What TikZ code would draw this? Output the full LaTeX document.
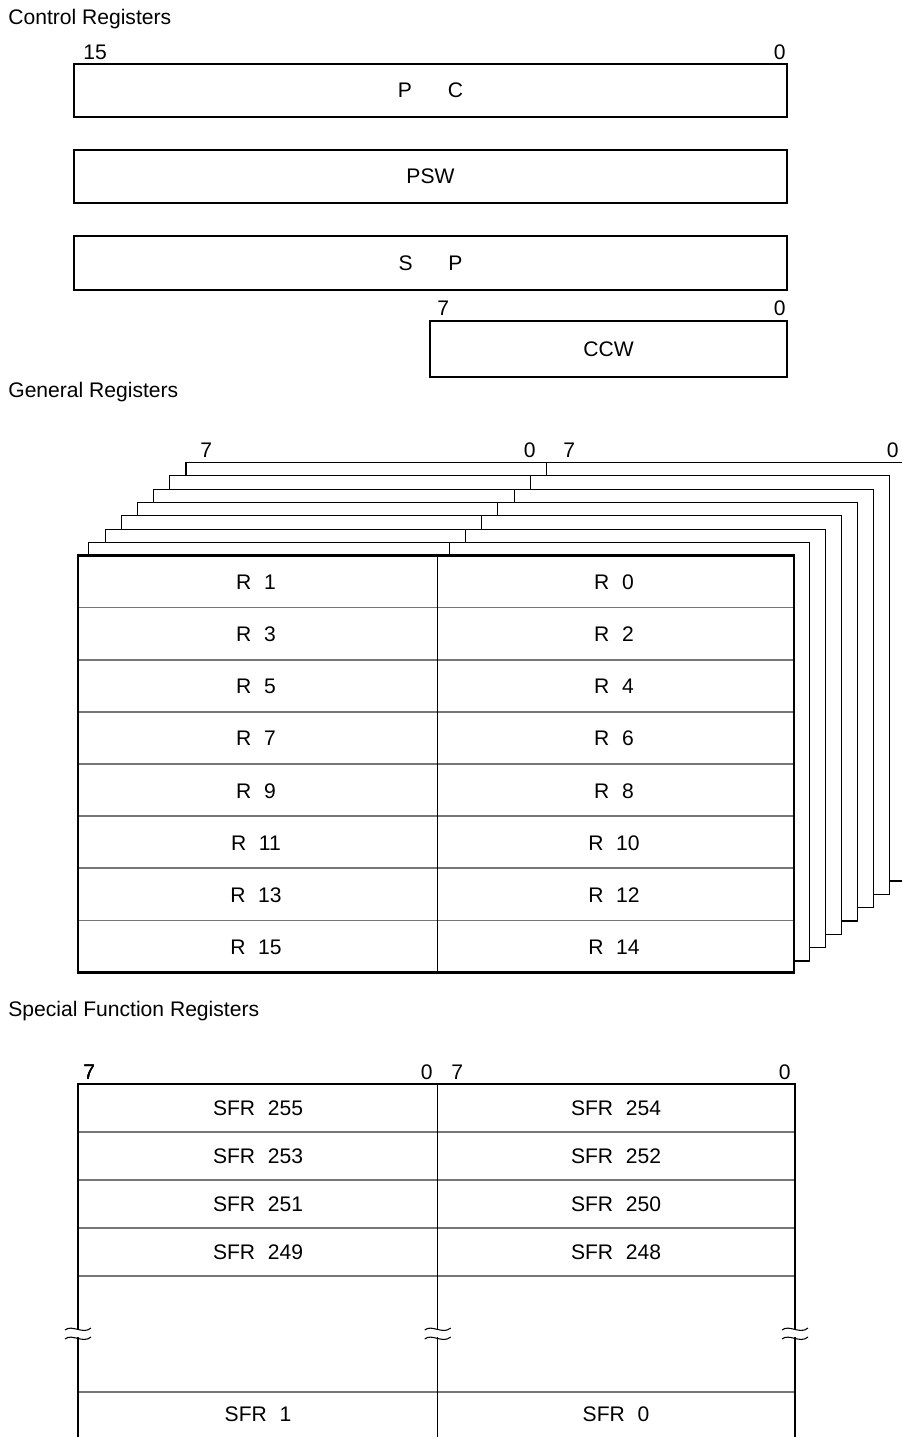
\documentclass[tikz,border=0pt]{standalone}
\usepackage{fontspec}
\setmainfont{Liberation Sans}
\usetikzlibrary{positioning,calc}
\definecolor{ink}{RGB}{0,0,0}
\definecolor{rule}{RGB}{118,118,118}
\newcommand{\regfont}{\fontsize{12}{14}\selectfont}
\newcommand{\gap}{\hspace{0.6em}}
\tikzset{
  reg/.style={draw=ink, line width=1.6pt, inner sep=0pt, font=\regfont},
  heavy/.style={draw=ink, line width=1.6pt},
  bank/.style={draw=ink, line width=0.6pt},
  rowline/.style={draw=rule, line width=0.8pt},
  midline/.style={draw=ink, line width=0.7pt},
  cell/.style={font=\regfont, inner sep=0pt},
  bitl/.style={font=\regfont, inner sep=0pt, anchor=base west},
  bitr/.style={font=\regfont, inner sep=0pt, anchor=base east},
  title/.style={font=\regfont, inner sep=0pt, anchor=base west},
}
\newcommand{\breakmark}[2]{%
  \fill[white] (#1-4,#2+1) rectangle (#1+4,#2+8);
  \draw[ink,line width=0.6pt] (#1-13,#2+1) .. controls (#1-6,#2-5) and (#1+5,#2+6) .. (#1+13,#2-1);
  \draw[ink,line width=0.6pt] (#1-13,#2+10) .. controls (#1-6,#2+4) and (#1+5,#2+15) .. (#1+13,#2+8);}
\begin{document}
\begin{tikzpicture}[x=0.02cm,y=-0.02cm]
  \useasboundingbox (0,0) rectangle (902,1437);
  \node[title] (ctltitle) at (8,24) {Control Registers};
  \node[reg, minimum width=14.26cm, minimum height=1.06cm] (pc)  at (430.5,90.5) {P\hspace{1.7em}C};
  \node[reg, minimum width=14.26cm, minimum height=1.06cm] (psw) at (430.5,176.5) {PSW};
  \node[reg, minimum width=14.26cm, minimum height=1.08cm] (sp)  at (430.5,263) {S\hspace{1.7em}P};
  \node[reg, minimum width=7.14cm, minimum height=1.12cm]  (ccw) at (608.5,349) {CCW};
  \node[bitl] (pchi)  at (83,59) {15};
  \node[bitr] (pclo)  at (786,59) {0};
  \node[bitl] (ccwhi) at (437,315) {7};
  \node[bitr] (ccwlo) at (786,315) {0};

  \node[title] (gentitle) at (8,397) {General Registers};
  \foreach \k in {1,...,7} {
    \pgfmathsetmacro\lx{72.8+16.17*\k}
    \pgfmathsetmacro\mx{433+16.23*\k}
    \pgfmathsetmacro\rx{793.2+16.1*\k}
    \pgfmathsetmacro\px{793.2+16.1*(\k-1)}
    \pgfmathsetmacro\ty{555.7-13.33*\k}
    \pgfmathsetmacro\py{555.7-13.33*(\k-1)}
    \pgfmathsetmacro\by{974.3-13.33*\k}
    \draw[bank] (\lx,\py) -- (\lx,\ty) -- (\rx,\ty) -- (\rx,\by) -- (\px,\by);
    \draw[bank] (\mx,\ty) -- (\mx,\py);
  }
  \fill[white] (78,555.7) rectangle (794,972.3);
  \foreach \i in {1,...,7}
    \draw[rowline] (78,{555.7+52.075*\i}) -- (794,{555.7+52.075*\i});
  \draw[midline] (437.7,555.7) -- (437.7,972.3);
  \draw[heavy] (78,555.7) rectangle (794,972.3);
  \foreach \i/\l/\r in {0/1/0,1/3/2,2/5/4,3/7/6,4/9/8,5/11/10,6/13/12,7/15/14} {
    \node[cell] (gr\l) at (256,{582.5+52.075*\i}) {R\gap\l};
    \node[cell] (gr\r) at (614,{582.5+52.075*\i}) {R\gap\r};
  }
  \node[bitl] (genhh) at (200,457) {7};
  \node[bitr] (genhl) at (536,457) {0};
  \node[bitl] (genlh) at (563,457) {7};
  \node[bitr] (genll) at (899,457) {0};

  \node[title] (sfrtitle) at (8,1016) {Special Function Registers};
  \foreach \y in {1132,1180,1228,1276,1392}
    \draw[rowline] (78,\y) -- (795,\y);
  \draw[midline] (437.7,1084) -- (437.7,1445);
  \draw[heavy] (78,1445) -- (78,1084) -- (795,1084) -- (795,1445);
  \foreach \i/\l/\r in {0/255/254,1/253/252,2/251/250,3/249/248} {
    \node[cell] (sfr\l) at (258,{1108.5+48*\i}) {SFR\gap\l};
    \node[cell] (sfr\r) at (616,{1108.5+48*\i}) {SFR\gap\r};
  }
  \node[cell] (sfr1) at (258,1414) {SFR\gap 1};
  \node[cell] (sfr0) at (616,1414) {SFR\gap 0};
  \foreach \x in {78,437.7,795} \breakmark{\x}{1329}
  \node[bitl] (sfrhh) at (83,1079) {7};
  \node[bitr] (sfrhl) at (433,1079) {0};
  \node[bitl] (sfrlh) at (451,1079) {7};
  \node[bitr] (sfrll) at (791,1079) {0};
\end{tikzpicture}
\end{document}
